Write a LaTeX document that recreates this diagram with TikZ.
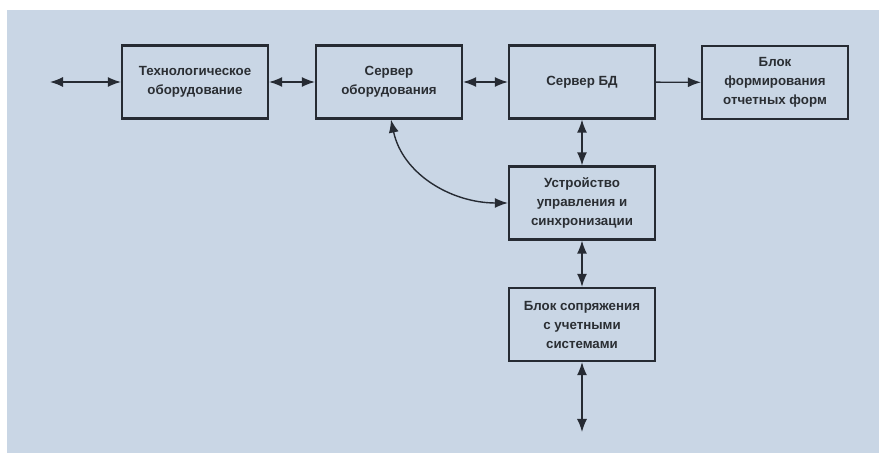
\documentclass[tikz,border=0pt]{standalone}
\usepackage{fontspec}
\setmainfont{Liberation Sans}
\usetikzlibrary{arrows.meta}
\definecolor{bgc}{HTML}{C9D6E5}
\definecolor{linec}{HTML}{262B33}
\definecolor{txtc}{HTML}{2A2E33}
\begin{document}
\begin{tikzpicture}[x=1pt,y=-1pt,
  blockbox/.style={draw=linec, line width=2.2pt, fill=bgc, minimum width=146pt, minimum height=73pt,
    inner sep=2pt, align=center, text=txtc, font=\fontsize{13.3}{19}\selectfont\bfseries},
  conn/.style={draw=linec, line width=1.4pt, {Latex[length=13pt,width=10pt]}-{Latex[length=13pt,width=10pt]}},
  conn1/.style={draw=linec, line width=1.4pt, -{Latex[length=13pt,width=10pt]}}]
\useasboundingbox (0,0) rectangle (879,454);
\fill[white] (0,0) rectangle (879,454);
\fill[bgc] (7,10) rectangle (879,453);
\node[blockbox] (tech) at (195,82) {Технологическое\\оборудование};
\node[blockbox] (srvo) at (389,82) {Сервер\\оборудования};
\node[blockbox] (srvbd) at (582,82) {Сервер БД};
\node[blockbox] (blok) at (775,82.5) {Блок\\формирования\\отчетных форм};
\node[blockbox] (ustr) at (582,203) {Устройство\\управления и\\синхронизации};
\node[blockbox] (sopr) at (582,324.5) {Блок сопряжения\\с учетными\\системами};
\coordinate (lend) at (50,82);
\coordinate (bend) at (582,432);
\draw[conn] (lend) -- (tech.west);
\draw[conn] (tech) -- (srvo);
\draw[conn] (srvo) -- (srvbd);
\draw[conn1] (srvbd) -- (blok);
\draw[conn] (srvbd) -- (ustr);
\draw[conn] (ustr) -- (sopr);
\draw[conn] (sopr.south) -- (bend);
\draw[conn] ([xshift=2pt]srvo.south) to[out=-78,in=180] (ustr.west);
\end{tikzpicture}
\end{document}
